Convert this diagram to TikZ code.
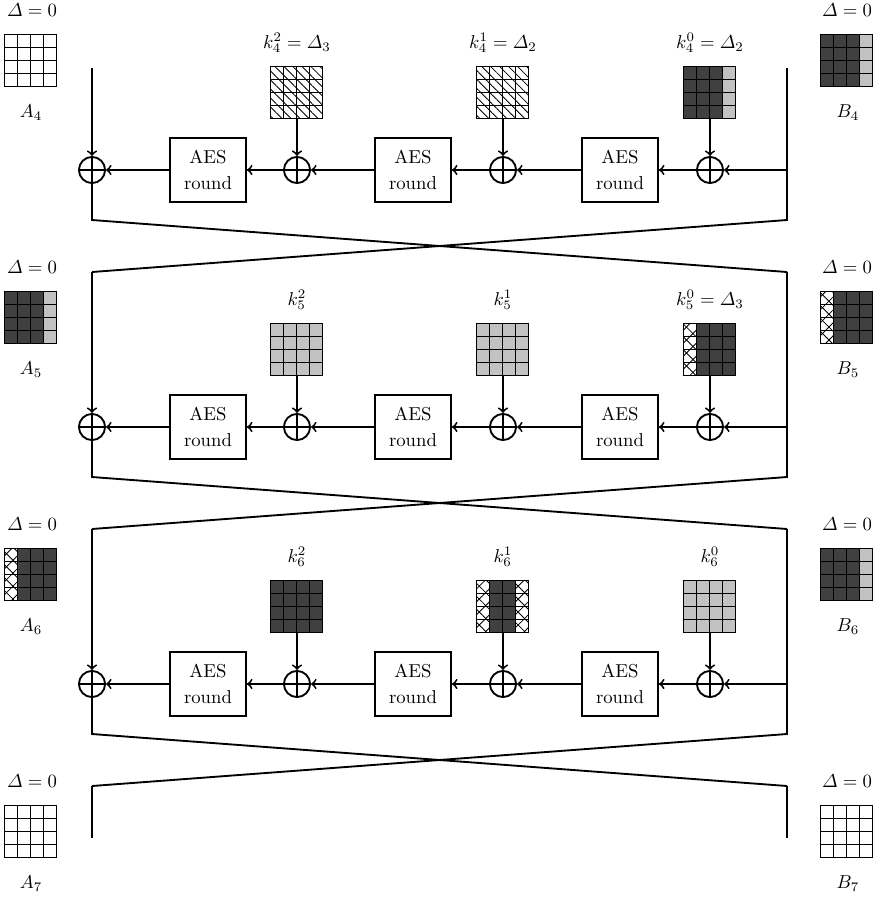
\documentclass[tikz,border=0pt]{standalone}
\usepackage{amsmath}
\usetikzlibrary{calc}
\usetikzlibrary{patterns.meta}

\definecolor{darkcell}{gray}{0.25}
\definecolor{lightcell}{gray}{0.76}

\tikzset{
  wire/.style={line width=1pt},
  wht/.style={fill=white},
  drk/.style={fill=darkcell},
  gry/.style={fill=lightcell},
  hat/.style={pattern={Lines[angle=-45,distance=3.4pt,line width=0.45pt]}},
  crs/.style={preaction={fill=white},
    preaction={pattern={Lines[angle=45,distance=4.9pt,line width=0.45pt]}},
    pattern={Lines[angle=-45,distance=4.9pt,line width=0.45pt]}},
  aesbox/.style={draw, wire, fill=white, align=center, inner sep=0pt,
    minimum width=40.7pt, minimum height=34.2pt},
  xorcirc/.style={draw, wire, circle, inner sep=0pt, minimum size=14pt,
    path picture={\draw[wire] (path picture bounding box.north) -- (path picture bounding box.south)
      (path picture bounding box.west) -- (path picture bounding box.east);}},
}

% 4x4 state, one style per column
\newcommand{\cellgrid}[6]{%
  \node[inner sep=0pt, minimum size=27.82pt] (#1) at #2 {};
  \foreach \c/\s in {0/#3,1/#4,2/#5,3/#6}
    \foreach \rr in {0,...,3}
      \draw[line width=0.9pt,\s] ($(#1.north west)+(\c*13,\rr*13)$) rectangle ++(13,13);
}

\begin{document}
\begin{tikzpicture}[x=0.535pt, y=-0.535pt, >=to]
\useasboundingbox (0,0) rectangle (881,897);

\coordinate (L4t) at (92,68);   \coordinate (R4t) at (787,68);
\coordinate (L4b) at (92,220);  \coordinate (R4b) at (787,220);
\coordinate (L5t) at (92,272);  \coordinate (R5t) at (787,272);
\coordinate (L5b) at (92,477);  \coordinate (R5b) at (787,477);
\coordinate (L6t) at (92,529);  \coordinate (R6t) at (787,529);
\coordinate (L6b) at (92,734);  \coordinate (R6b) at (787,734);
\coordinate (L7t) at (92,786);  \coordinate (R7t) at (787,786);
\coordinate (L7b) at (92,838);  \coordinate (R7b) at (787,838);

\foreach \rnd/\dy in {4/0,5/257,6/514,7/771}{
  \node (dA\rnd) at (32,10+\dy) {$\varDelta=0$};
  \node (dB\rnd) at (847,10+\dy) {$\varDelta=0$};
  \node (nA\rnd) at (31,113+\dy) {$A_\rnd$};
  \node (nB\rnd) at (848,113+\dy) {$B_\rnd$};
}

\foreach \rnd/\dy [evaluate=\rnd as \nxt using int(\rnd+1)] in {4/0,5/257,6/514}{
  \node[xorcirc] (X\rnd d) at (92,170+\dy) {};
  \node[aesbox] (E\rnd a) at (208,170+\dy) {AES\\[2pt]round};
  \node[xorcirc] (X\rnd a) at (297,170+\dy) {};
  \node[aesbox] (E\rnd b) at (413,170+\dy) {AES\\[2pt]round};
  \node[xorcirc] (X\rnd b) at (503,170+\dy) {};
  \node[aesbox] (E\rnd c) at (620,170+\dy) {AES\\[2pt]round};
  \node[xorcirc] (X\rnd c) at (710,170+\dy) {};
  \coordinate (R\rnd m) at (787,170+\dy);
  \draw[wire, ->] (R\rnd m) -- (X\rnd c);
  \draw[wire, ->] (X\rnd c) -- (E\rnd c);
  \draw[wire, ->] (E\rnd c) -- (X\rnd b);
  \draw[wire, ->] (X\rnd b) -- (E\rnd b);
  \draw[wire, ->] (E\rnd b) -- (X\rnd a);
  \draw[wire, ->] (X\rnd a) -- (E\rnd a);
  \draw[wire, ->] (E\rnd a) -- (X\rnd d);
  \draw[wire, ->] (L\rnd t) -- (X\rnd d);
  \draw[wire] (X\rnd d) -- (L\rnd b) -- (R\nxt t);
  \draw[wire] (R\rnd t) -- (R\rnd b) -- (L\nxt t);
}
\draw[wire] (L7t) -- (L7b);
\draw[wire] (R7t) -- (R7b);

% states and round keys
\cellgrid{A4}{(31,61)}{wht}{wht}{wht}{wht}
\cellgrid{B4}{(847,61)}{drk}{drk}{drk}{gry}
\cellgrid{K4a}{(297,93)}{hat}{hat}{hat}{hat}
\cellgrid{K4b}{(503,93)}{hat}{hat}{hat}{hat}
\cellgrid{K4c}{(710,93)}{drk}{drk}{drk}{gry}
\node (k4a) at (297,43) {$k_4^2=\varDelta_3$};
\node (k4b) at (503,43) {$k_4^1=\varDelta_2$};
\node (k4c) at (710,43) {$k_4^0=\varDelta_2$};

\cellgrid{A5}{(31,318)}{drk}{drk}{drk}{gry}
\cellgrid{B5}{(847,318)}{crs}{drk}{drk}{drk}
\cellgrid{K5a}{(297,350)}{gry}{gry}{gry}{gry}
\cellgrid{K5b}{(503,350)}{gry}{gry}{gry}{gry}
\cellgrid{K5c}{(710,350)}{crs}{drk}{drk}{drk}
\node (k5a) at (297,300) {$k_5^2$};
\node (k5b) at (503,300) {$k_5^1$};
\node (k5c) at (710,300) {$k_5^0=\varDelta_3$};

\cellgrid{A6}{(31,575)}{crs}{drk}{drk}{drk}
\cellgrid{B6}{(847,575)}{drk}{drk}{drk}{gry}
\cellgrid{K6a}{(297,607)}{drk}{drk}{drk}{drk}
\cellgrid{K6b}{(503,607)}{crs}{drk}{drk}{crs}
\cellgrid{K6c}{(710,607)}{gry}{gry}{gry}{gry}
\node (k6a) at (297,557) {$k_6^2$};
\node (k6b) at (503,557) {$k_6^1$};
\node (k6c) at (710,557) {$k_6^0$};

\cellgrid{A7}{(31,832)}{wht}{wht}{wht}{wht}
\cellgrid{B7}{(847,832)}{wht}{wht}{wht}{wht}

\foreach \rnd in {4,5,6}{
  \draw[wire, ->] (K\rnd a) -- (X\rnd a);
  \draw[wire, ->] (K\rnd b) -- (X\rnd b);
  \draw[wire, ->] (K\rnd c) -- (X\rnd c);
}

\end{tikzpicture}
\end{document}
